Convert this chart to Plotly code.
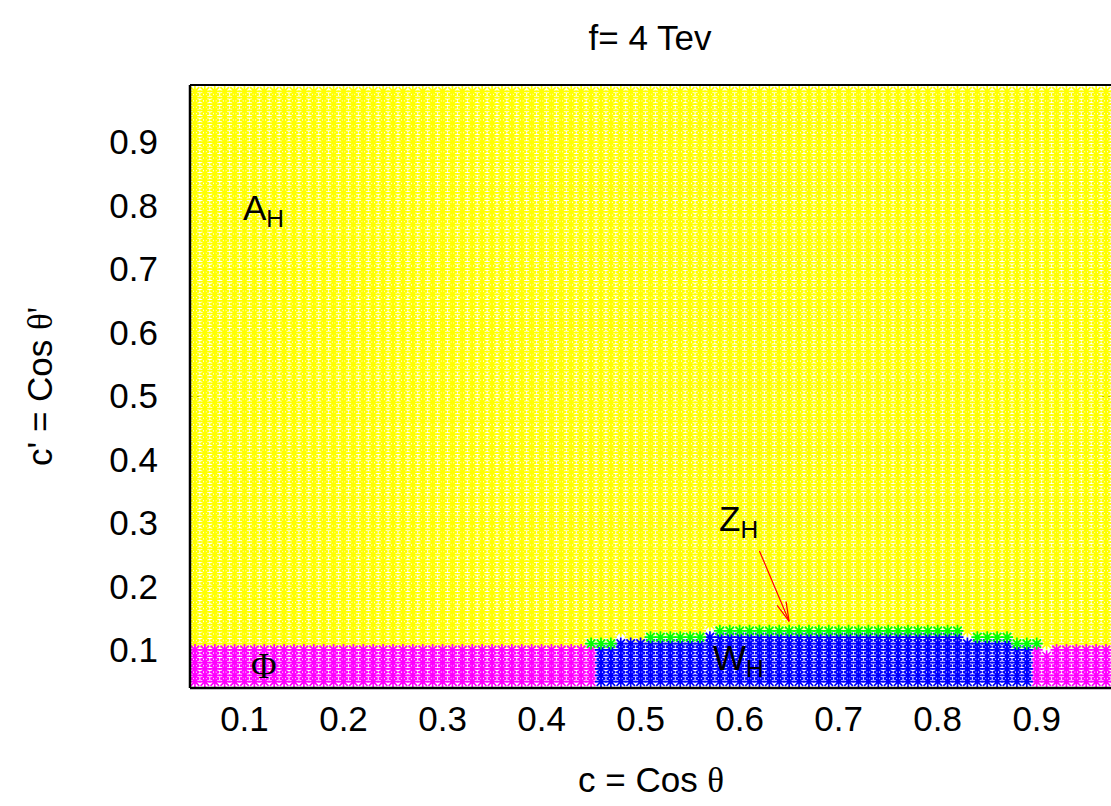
import plotly.graph_objects as go
import math

# ---------------- data ----------------
# scan grid (c along x, c' along y), step 0.01
c_values = [round(0.05 + 0.01 * i, 2) for i in range(95)]
cp_values = [round(0.05 + 0.01 * j, 2) for j in range(94)]

# Phi (magenta) region: c' <= phi_top, outside the W_H columns
phi_top = 0.10

# W_H (blue) columns and the highest c' value of each column
wh_x = [0.46, 0.47, 0.48, 0.49, 0.50, 0.51, 0.52, 0.53, 0.54, 0.55, 0.56, 0.57,
        0.58, 0.59, 0.60, 0.61, 0.62, 0.63, 0.64, 0.65, 0.66, 0.67, 0.68, 0.69,
        0.70, 0.71, 0.72, 0.73, 0.74, 0.75, 0.76, 0.77, 0.78, 0.79, 0.80, 0.81,
        0.82, 0.83, 0.84, 0.85, 0.86, 0.87, 0.88, 0.89]
wh_top = [0.10, 0.10, 0.11, 0.11, 0.11, 0.11, 0.11, 0.11, 0.11, 0.11, 0.11, 0.12,
          0.12, 0.12, 0.12, 0.12, 0.12, 0.12, 0.12, 0.12, 0.12, 0.12, 0.12, 0.12,
          0.12, 0.12, 0.12, 0.12, 0.12, 0.12, 0.12, 0.12, 0.12, 0.12, 0.12, 0.12,
          0.12, 0.11, 0.11, 0.11, 0.11, 0.11, 0.10, 0.10]

# Z_H (green) points along the boundary
zh_x = [0.45, 0.46, 0.47, 0.51, 0.52, 0.53, 0.54, 0.55, 0.56,
        0.58, 0.59, 0.60, 0.61, 0.62, 0.63, 0.64, 0.65, 0.66, 0.67, 0.68, 0.69,
        0.70, 0.71, 0.72, 0.73, 0.74, 0.75, 0.76, 0.77, 0.78, 0.79, 0.80, 0.81,
        0.82, 0.84, 0.85, 0.86, 0.87, 0.88, 0.89, 0.90]
zh_y = [0.11, 0.11, 0.11, 0.12, 0.12, 0.12, 0.12, 0.12, 0.12,
        0.13, 0.13, 0.13, 0.13, 0.13, 0.13, 0.13, 0.13, 0.13, 0.13, 0.13, 0.13,
        0.13, 0.13, 0.13, 0.13, 0.13, 0.13, 0.13, 0.13, 0.13, 0.13, 0.13, 0.13,
        0.13, 0.12, 0.12, 0.12, 0.12, 0.11, 0.11, 0.11]

# scan points with no result (left blank)
gap_x = [0.48, 0.57, 0.83, 0.91]
gap_y = [0.12, 0.13, 0.12, 0.10]

x_ticks = [0.1, 0.2, 0.3, 0.4, 0.5, 0.6, 0.7, 0.8, 0.9]
y_ticks = [0.1, 0.2, 0.3, 0.4, 0.5, 0.6, 0.7, 0.8, 0.9]
x_tick_text = ["0.1", "0.2", "0.3", "0.4", "0.5", "0.6", "0.7", "0.8", "0.9"]
y_tick_text = ["0.1", "0.2", "0.3", "0.4", "0.5", "0.6", "0.7", "0.8", "0.9"]

# arrow pointing at the Z_H strip (tail, head)
arrow_tail = (0.62, 0.256)
arrow_head = (0.65, 0.145)

# ---------------- classify grid ----------------
wh_map = dict(zip(wh_x, wh_top))
zh_set = set(zip(zh_x, zh_y))
gap_set = set(zip(gap_x, gap_y))

groups = {"A": ([], []), "P": ([], []), "W": ([], []), "Z": ([], [])}
for cx in c_values:
    for cy in cp_values:
        key = (cx, cy)
        if key in gap_set:
            continue
        if key in zh_set:
            g = "Z"
        elif cx in wh_map and cy <= wh_map[cx] + 1e-9:
            g = "W"
        elif cx not in wh_map and cy <= phi_top + 1e-9:
            g = "P"
        else:
            g = "A"
        groups[g][0].append(cx)
        groups[g][1].append(cy)

colors = {"A": "#ffff00", "P": "#ff00ff", "W": "#0000ff", "Z": "#00ff00"}
names = {"A": "A_H", "P": "Phi", "W": "W_H", "Z": "Z_H"}

fig = go.Figure()
for g in ["A", "P", "W", "Z"]:
    xs, ys = groups[g]
    fig.add_trace(go.Scatter(
        x=xs, y=ys, mode="markers", name=names[g], showlegend=False,
        hoverinfo="skip",
        marker=dict(symbol="asterisk-open", size=10,
                    line=dict(color=colors[g], width=1.7), color=colors[g]),
    ))

# ---------------- axes geometry ----------------
W, H = 1111, 806
ml, mr, mt, mb = 190, 0, 85, 118
xr = [0.045, 0.975]
yr = [0.04, 0.99]
pw, ph = W - ml - mr, H - mt - mb
sx = pw / (xr[1] - xr[0])
sy = ph / (yr[1] - yr[0])

# arrow with open V head
tx, ty = arrow_tail
hx, hy = arrow_head
dxp = (hx - tx) * sx
dyp = (hy - ty) * sy
ang = math.atan2(dyp, dxp)
hl = 20
ax_, ay_ = [tx, hx, None], [ty, hy, None]
for s in (1, -1):
    a = ang + math.pi + s * math.radians(14)
    ax_ += [hx + hl * math.cos(a) / sx, hx, None]
    ay_ += [hy + hl * math.sin(a) / sy, hy, None]
fig.add_trace(go.Scatter(x=ax_, y=ay_, mode="lines", showlegend=False,
                         hoverinfo="skip",
                         line=dict(color="#ff0000", width=1.2)))

font = "Liberation Sans, Arial, sans-serif"
serif = "Liberation Serif"
fs = 35

fig.update_layout(
    width=W, height=H,
    margin=dict(l=ml, r=mr, t=mt, b=mb, pad=0),
    paper_bgcolor="white", plot_bgcolor="white",
    font=dict(family=font, size=fs, color="black"),
    title=dict(text="f= 4 Tev", x=650 / W, xanchor="center",
               yref="container", y=1 - 38 / H, yanchor="middle",
               font=dict(family=font, size=fs)),
    xaxis=dict(range=xr, tickvals=x_ticks, ticktext=x_tick_text,
               ticks="inside", ticklen=9, tickwidth=1, tickcolor="black",
               mirror="ticks", showline=False, showgrid=False, zeroline=False,
               layer="below traces", ticklabelstandoff=7,
               tickfont=dict(family=font, size=fs)),
    yaxis=dict(range=yr, tickvals=y_ticks, ticktext=y_tick_text,
               ticks="inside", ticklen=9, tickwidth=1, tickcolor="black",
               mirror="ticks", showline=False, showgrid=False, zeroline=False,
               layer="below traces", ticklabelstandoff=31,
               tickfont=dict(family=font, size=fs)),
    shapes=[
        dict(type="line", xref="paper", yref="paper", x0=0, x1=1, y0=0, y1=0,
             line=dict(color="black", width=2.5), layer="above"),
        dict(type="line", xref="paper", yref="paper", x0=0, x1=1, y0=1, y1=1,
             line=dict(color="black", width=2), layer="above"),
        dict(type="line", xref="paper", yref="paper", x0=0, x1=0, y0=0, y1=1,
             line=dict(color="black", width=2.5), layer="above"),
    ],
    annotations=[
        dict(text="c = Cos <span style='font-family:Liberation Serif'>θ</span>",
             xref="paper", yref="paper", x=0.5, y=(688 - 780) / ph,
             xanchor="center", yanchor="middle", showarrow=False,
             font=dict(family=font, size=fs)),
        dict(text="c' = Cos <span style='font-family:Liberation Serif'>θ'</span>",
             xref="paper", yref="paper", x=(40 - ml) / pw, y=(688 - 387) / ph,
             xanchor="center", yanchor="middle", showarrow=False, textangle=-90,
             font=dict(family=font, size=fs)),
        dict(text="A<sub>H</sub>", x=0.096, y=0.793, xanchor="left",
             yanchor="middle", showarrow=False, font=dict(family=font, size=fs)),
        dict(text="Z<sub>H</sub>", x=0.577, y=0.303, xanchor="left",
             yanchor="middle", showarrow=False, font=dict(family=font, size=fs)),
        dict(text="W<sub>H</sub>", x=0.571, y=0.084, xanchor="left",
             yanchor="middle", showarrow=False, font=dict(family=font, size=fs)),
        dict(text="Φ", x=0.12, y=0.074, xanchor="center",
             yanchor="middle", showarrow=False, font=dict(family=serif, size=fs)),
    ],
)

fig.write_html("out.html")
